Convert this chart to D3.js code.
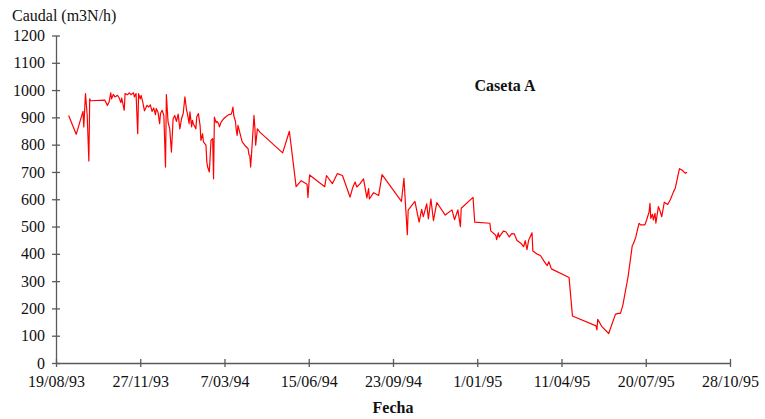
<!DOCTYPE html>
<html>

<head>
  <title>Caseta A</title>
  <meta charset="UTF-8" />
  <script src="https://cdn.jsdelivr.net/npm/d3@7"></script>
</head>

<style>
  body {
    margin: 0;
    background: white;
    font-family: 'Liberation Serif', 'DejaVu Serif', serif;
  }
</style>

<body>
  <svg></svg>
  <script>
    // days counted from the first tick (19/08/93)
    const inicio = '19/08/93';
    const dias = [
      15, 24, 32, 33, 35, 37, 39, 40, 41, 58, 61, 63, 65, 66, 68, 70, 73, 75, 77, 78,
      81, 82, 85, 87, 89, 92, 93, 95, 97, 98, 100, 101, 103, 105, 108, 110, 112, 114, 116, 118,
      119, 121, 123, 124, 126, 128, 130, 131, 133, 135, 137, 139, 141, 143, 145, 147, 149, 151, 153, 155,
      156, 158, 159, 161, 162, 163, 166, 167, 169, 171, 172, 174, 175, 178, 179, 180, 182, 184, 186, 187,
      188, 190, 191, 193, 194, 196, 199, 202, 205, 208, 209, 210, 211, 213, 214, 215, 216, 219, 221, 224,
      228, 229, 230, 231, 232, 235, 236, 237, 239, 242, 269, 277, 285, 291, 298, 299, 301, 319, 321, 328,
      334, 340, 349, 352, 355, 357, 361, 365, 369, 371, 372, 377, 383, 387, 410, 413, 415, 417, 418, 426,
      431, 434, 436, 440, 442, 445, 448, 452, 462, 470, 473, 477, 480, 481, 495, 497, 515, 516, 522, 523,
      525, 526, 531, 534, 538, 541, 544, 547, 552, 555, 557, 559, 561, 565, 566, 571, 575, 579, 583, 585,
      588, 609, 613, 641, 642, 643, 648, 656, 664, 667, 670, 672, 673, 679, 684, 685, 688, 692, 694, 699,
      701, 704, 705, 706, 708, 709, 711, 712, 715, 717, 719, 722, 726, 729, 733, 735, 740, 743, 747, 749
    ];
    const caudal = [
      907, 838, 922, 865, 987, 909, 740, 968, 961, 963, 944, 956, 990, 968, 984, 975, 981, 971, 954, 971,
      926, 987, 983, 990, 983, 990, 975, 987, 840, 987, 968, 981, 956, 924, 944, 938, 946, 922, 934, 910,
      932, 920, 877, 914, 926, 907, 718, 983, 883, 858, 773, 895, 907, 885, 912, 858, 895, 914, 975, 926,
      914, 877, 920, 865, 889, 877, 858, 901, 914, 871, 816, 840, 810, 798, 737, 718, 700, 816, 822, 675,
      901, 881, 885, 877, 865, 883, 895, 903, 910, 912, 922, 938, 907, 885, 853, 834, 871, 834, 810, 798,
      785, 763, 761, 718, 761, 907, 865, 798, 858, 846, 770, 849, 646, 668, 655, 607, 689, 646, 687, 657,
      694, 687, 608, 641, 663, 645, 657, 675, 605, 639, 601, 624, 614, 690, 592, 677, 572, 470, 560, 592,
      516, 563, 536, 583, 528, 601, 522, 588, 542, 561, 525, 561, 500, 567, 607, 516, 512, 484, 468, 452,
      477, 461, 483, 481, 462, 474, 473, 450, 438, 426, 448, 415, 450, 477, 410, 399, 394, 374, 357, 371,
      345, 313, 172, 136, 121, 160, 133, 108, 178, 182, 182, 203, 215, 316, 430, 435, 459, 512, 506, 506,
      524, 554, 585, 530, 545, 524, 548, 512, 573, 557, 536, 589, 581, 597, 628, 640, 712, 707, 695, 699
    ];
    const fechasEje = ['19/08/93', '27/11/93', '7/03/94', '15/06/94', '23/09/94',
      '1/01/95', '11/04/95', '20/07/95', '28/10/95'];
    const caudalTicks = [0, 100, 200, 300, 400, 500, 600, 700, 800, 900, 1000, 1100, 1200];

    let width = 765,
      height = 419;

    let svg = d3.select('svg').attr('width', width).attr('height', height);

    const parse = d3.utcParse('%d/%m/%y');
    const t0 = parse(inicio);
    const tickDates = fechasEje.map(parse);

    let x = d3.scaleUtc()
      .domain([tickDates[0], tickDates[tickDates.length - 1]])
      .range([56, 730]);
    let y = d3.scaleLinear().domain([0, 1200]).range([363, 35.5]);

    const axisColor = '#5a5a5a';

    // y axis
    let gy = svg.append('g')
      .attr('transform', 'translate(56,0)')
      .call(d3.axisLeft(y).tickValues(caudalTicks).tickFormat(d3.format('d'))
        .tickSize(4).tickSizeOuter(0).tickPadding(7));
    gy.selectAll('.tick line').attr('x1', 4);

    // x axis
    let gx = svg.append('g')
      .attr('transform', 'translate(0,363)')
      .call(d3.axisBottom(x).tickValues(tickDates).tickSize(4).tickSizeOuter(0).tickPadding(9)
        .tickFormat((d, i) => fechasEje[i]));
    gx.selectAll('.tick line').attr('y1', -4);

    svg.selectAll('.domain, .tick line')
      .attr('stroke', axisColor)
      .attr('stroke-width', 1.3);
    svg.selectAll('.tick text')
      .attr('font-family', "'Liberation Serif', serif")
      .attr('font-size', 16)
      .attr('fill', '#111');

    // data line
    let puntos = dias.map((d, i) => [d3.utcDay.offset(t0, d), caudal[i]]);
    let line = d3.line().x(d => x(d[0])).y(d => y(d[1]));
    svg.append('path')
      .datum(puntos)
      .attr('d', line)
      .attr('fill', 'none')
      .attr('stroke', '#ff0000')
      .attr('stroke-width', 1.2)
      .attr('stroke-linejoin', 'round');

    // titles
    svg.append('text')
      .attr('x', 12).attr('y', 21)
      .attr('font-size', 16)
      .attr('fill', '#111')
      .text('Caudal (m3N/h)');

    svg.append('text')
      .attr('x', 393).attr('y', 413)
      .attr('text-anchor', 'middle')
      .attr('font-size', 16)
      .attr('font-weight', 'bold')
      .attr('fill', '#111')
      .text('Fecha');

    svg.append('text')
      .attr('x', 505).attr('y', 91)
      .attr('text-anchor', 'middle')
      .attr('font-size', 16)
      .attr('font-weight', 'bold')
      .attr('fill', '#111')
      .text('Caseta A');
  </script>
</body>

</html>
